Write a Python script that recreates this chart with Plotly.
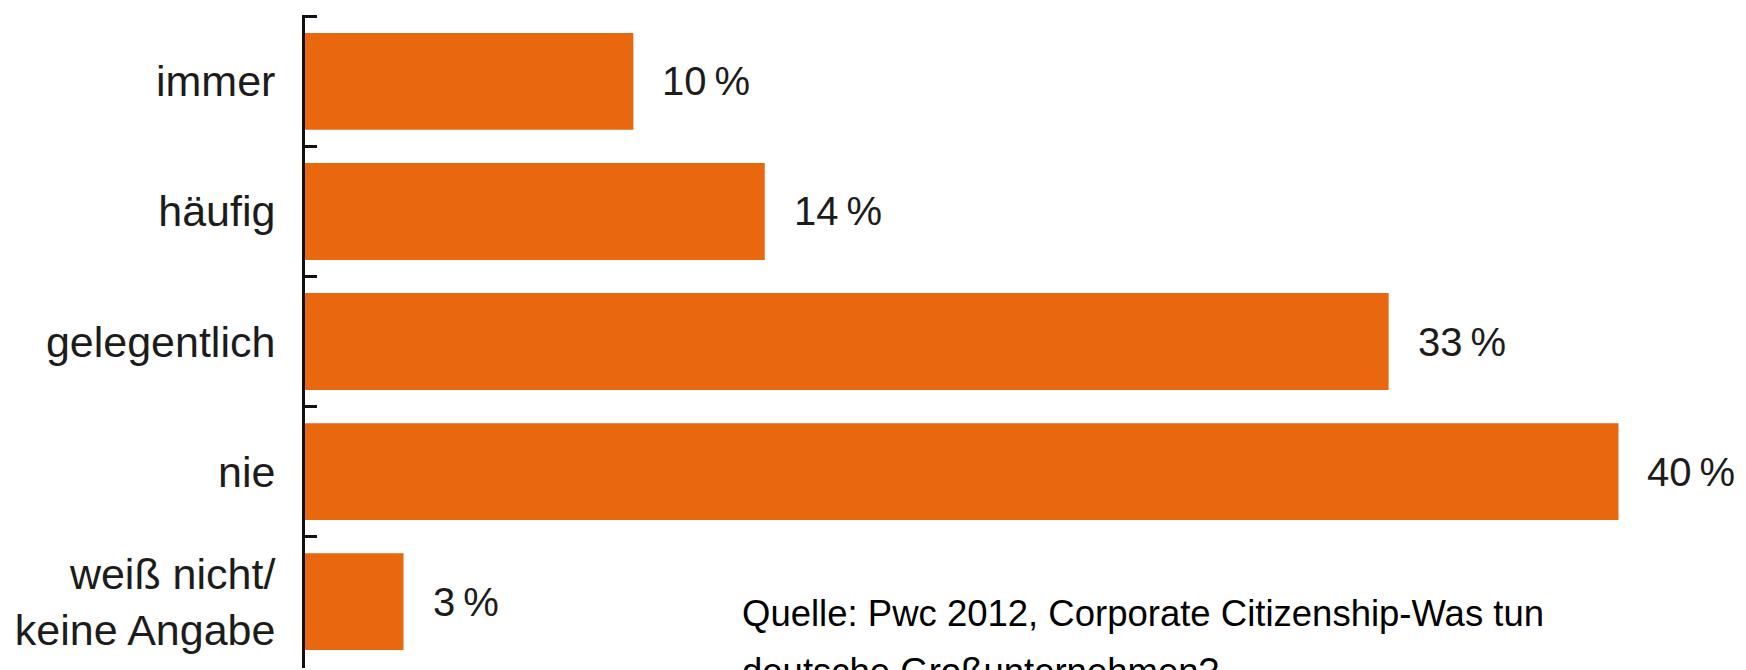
import plotly.graph_objects as go

categories = ["immer", "häufig", "gelegentlich", "nie", "weiß nicht/<br>keine Angabe"]
values = [10, 14, 33, 40, 3]
value_labels = ["10\u2009%", "14\u2009%", "33\u2009%", "40\u2009%", "3\u2009%"]
source_lines = ["Quelle: Pwc 2012, Corporate Citizenship-Was tun", "deutsche Großunternehmen?"]

BAR_COLOR = "#E8670F"
TEXT_COLOR = "#1c1c1c"
FONT = "Liberation Sans, Arial, Helvetica, sans-serif"

fig = go.Figure()
fig.add_trace(go.Bar(
    x=values,
    y=categories,
    orientation="h",
    marker=dict(color=BAR_COLOR, line=dict(width=0)),
    hoverinfo="skip",
))

for v, c, t in zip(values, categories, value_labels):
    fig.add_annotation(
        x=v, y=c, xref="x", yref="y",
        text=t, showarrow=False,
        xanchor="left", yanchor="middle", xshift=27,
        font=dict(family=FONT, size=40, color=TEXT_COLOR),
    )

src_y = [0.084, -0.006]
for line, yy in zip(source_lines, src_y):
    fig.add_annotation(
        x=0.308, y=yy, xref="paper", yref="paper",
        text=line, showarrow=False,
        xanchor="left", yanchor="middle",
        font=dict(family=FONT, size=36.5, color="#000000"),
    )

fig.update_layout(
    width=1746, height=670,
    margin=dict(l=305, r=29, t=15, b=2),
    paper_bgcolor="white", plot_bgcolor="white",
    bargap=0.255,
    showlegend=False,
    font=dict(family=FONT, color=TEXT_COLOR),
)
fig.update_xaxes(range=[0, 43], visible=False, fixedrange=True)
fig.update_yaxes(
    categoryorder="array", categoryarray=categories, range=[4.51, -0.51],
    showline=True, linecolor="#111111", linewidth=3,
    ticks="inside", tickson="boundaries", ticklen=12, tickwidth=3, tickcolor="#111111",
    showgrid=False, zeroline=False,
    tickfont=dict(family=FONT, size=43, color=TEXT_COLOR),
    ticklabelstandoff=18,
    fixedrange=True,
)

fig.write_html("out.html", config={"displayModeBar": False})
